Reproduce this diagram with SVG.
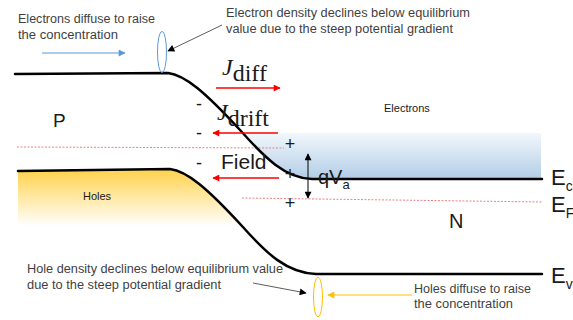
<svg xmlns="http://www.w3.org/2000/svg" width="573" height="320" viewBox="0 0 573 320">
<defs>
<style>
.band{fill:none;stroke:#000;stroke-width:2.5;stroke-linecap:round}
.ef{fill:none;stroke:#F08080;stroke-width:1;stroke-dasharray:2,1.5}
.note{font-family:"Liberation Sans",Arial,sans-serif;font-size:12px;fill:#3F3F3F}
.lbl{font-family:"Liberation Sans",Arial,sans-serif;fill:#1A1A1A}
.math{font-family:"Liberation Serif","Times New Roman",serif;font-size:24px;fill:#1A1A1A}
.sign{font-family:"Liberation Sans",Arial,sans-serif;font-size:18px;fill:#1A1A1A;text-anchor:middle}
.red{fill:none;stroke:#FF0000;stroke-width:1.6}
</style>
<linearGradient id="gHoles" x1="0" y1="169" x2="0" y2="226" gradientUnits="userSpaceOnUse">
<stop offset="0" stop-color="#FFD24A"/>
<stop offset="1" stop-color="#FFFFFF"/>
</linearGradient>
<linearGradient id="gElec" x1="0" y1="133" x2="0" y2="180" gradientUnits="userSpaceOnUse">
<stop offset="0" stop-color="#F2F7FC"/>
<stop offset="1" stop-color="#B0CCE6"/>
</linearGradient>
<marker id="mRed" viewBox="0 0 10 10" refX="9" refY="5" markerWidth="9" markerHeight="7" markerUnits="userSpaceOnUse" orient="auto">
<path d="M0,0 L10,5 L0,10 Z" fill="#FF0000"/>
</marker>
<marker id="mBlack" viewBox="0 0 10 10" refX="9" refY="5" markerWidth="9" markerHeight="7" markerUnits="userSpaceOnUse" orient="auto">
<path d="M0,0 L10,5 L0,10 Z" fill="#000"/>
</marker>
<marker id="mBlackS" viewBox="0 0 10 10" refX="1" refY="5" markerWidth="9" markerHeight="7" markerUnits="userSpaceOnUse" orient="auto">
<path d="M10,0 L0,5 L10,10 Z" fill="#000"/>
</marker>
<marker id="mBlue" viewBox="0 0 10 10" refX="9" refY="5" markerWidth="9" markerHeight="7" markerUnits="userSpaceOnUse" orient="auto">
<path d="M0,0 L10,5 L0,10 Z" fill="#5B9BD5"/>
</marker>
<marker id="mOrange" viewBox="0 0 10 10" refX="9" refY="5" markerWidth="9" markerHeight="7" markerUnits="userSpaceOnUse" orient="auto">
<path d="M0,0 L10,5 L0,10 Z" fill="#FFC000"/>
</marker>
</defs>
<rect width="573" height="320" fill="#FFFFFF"/>

<g id="fills">
<path id="holes-fill" d="M18,171 L170,169 C187,171 207,188 242,226 L18,226 Z" fill="url(#gHoles)"/>
<path id="electrons-fill" d="M242,133 L541,133 L541,180 L312,179 C285,178 265,158 240,130 Z" fill="url(#gElec)"/>
</g>

<g id="fermi-levels">
<line class="ef" x1="17" y1="147" x2="284" y2="148"/>
<line class="ef" x1="242" y1="198" x2="543" y2="202"/>
</g>

<g id="bands">
<path id="Ec" class="band" d="M15,74 L168,73 C185,75 205,92 240,130 C265,158 285,178 312,179 L542,179"/>
<path id="Ev" class="band" d="M18,171 L170,169 C187,171 207,188 242,226 C267,254 287,273 316,274 L542,274"/>
</g>

<g id="labels">
<text class="lbl" x="53" y="127" font-size="19">P</text>
<text class="lbl" x="449" y="228" font-size="20">N</text>
<text class="lbl" x="384" y="112" font-size="11">Electrons</text>
<text class="lbl" x="83" y="200" font-size="11">Holes</text>
<text class="lbl" x="551" y="185" font-size="22">E<tspan font-size="14" dy="6">c</tspan></text>
<text class="lbl" x="551" y="212" font-size="22">E<tspan font-size="14" dy="6">F</tspan></text>
<text class="lbl" x="551" y="283" font-size="22">E<tspan font-size="14" dy="6">v</tspan></text>
</g>

<g id="charges">
<text class="sign" x="199" y="110">-</text>
<text class="sign" x="199" y="139">-</text>
<text class="sign" x="199" y="169">-</text>
<text class="sign" x="290" y="150">+</text>
<text class="sign" x="290" y="180">+</text>
<text class="sign" x="290" y="209">+</text>
</g>

<g id="currents">
<text class="math" x="222" y="75"><tspan font-style="italic">J</tspan><tspan dy="6">diff</tspan></text>
<line class="red" x1="216" y1="88" x2="280" y2="88" marker-end="url(#mRed)"/>
<text class="math" x="217" y="120"><tspan font-style="italic">J</tspan><tspan dy="6">drift</tspan></text>
<line class="red" x1="278" y1="133" x2="213" y2="133" marker-end="url(#mRed)"/>
<text class="lbl" x="221" y="169" font-size="21">Field</text>
<line class="red" x1="279" y1="178" x2="213" y2="178" marker-end="url(#mRed)"/>
</g>

<g id="qVa">
<line x1="308" y1="154" x2="308" y2="198" stroke="#000" stroke-width="1" marker-start="url(#mBlackS)" marker-end="url(#mBlack)"/>
<text class="lbl" x="318" y="184" font-size="20">qV<tspan font-size="13" dy="5">a</tspan></text>
</g>

<g id="electron-notes">
<text class="note" x="18" y="23" textLength="137" lengthAdjust="spacingAndGlyphs">Electrons diffuse to raise</text>
<text class="note" x="18" y="39" textLength="100" lengthAdjust="spacingAndGlyphs">the concentration</text>
<text class="note" x="226" y="17" textLength="244" lengthAdjust="spacingAndGlyphs">Electron density declines below equilibrium</text>
<text class="note" x="226" y="33" textLength="227" lengthAdjust="spacingAndGlyphs">value due to the steep potential gradient</text>
<ellipse cx="162" cy="52" rx="4.5" ry="20.5" fill="none" stroke="#5B9BD5" stroke-width="1"/>
</g>

<g id="hole-notes">
<text class="note" x="27" y="273" textLength="256" lengthAdjust="spacingAndGlyphs">Hole density declines below equilibrium value</text>
<text class="note" x="27" y="289" textLength="194" lengthAdjust="spacingAndGlyphs">due to the steep potential gradient</text>
<text class="note" x="414" y="293" textLength="117" lengthAdjust="spacingAndGlyphs">Holes diffuse to raise</text>
<text class="note" x="414" y="308" textLength="99" lengthAdjust="spacingAndGlyphs">the concentration</text>
<ellipse cx="318" cy="297" rx="4.5" ry="20" fill="none" stroke="#FFC000" stroke-width="1"/>
</g>

<g id="connectors">
<line x1="42" y1="53" x2="125" y2="53" stroke="#5B9BD5" stroke-width="1.2" marker-end="url(#mBlue)"/>
<line x1="222" y1="25" x2="168" y2="51" stroke="#333" stroke-width="0.8" marker-end="url(#mBlack)"/>
<line x1="253" y1="283" x2="306" y2="293" stroke="#333" stroke-width="0.8" marker-end="url(#mBlack)"/>
<line x1="412" y1="295" x2="328" y2="295" stroke="#FFC000" stroke-width="1.2" marker-end="url(#mOrange)"/>
</g>
</svg>
